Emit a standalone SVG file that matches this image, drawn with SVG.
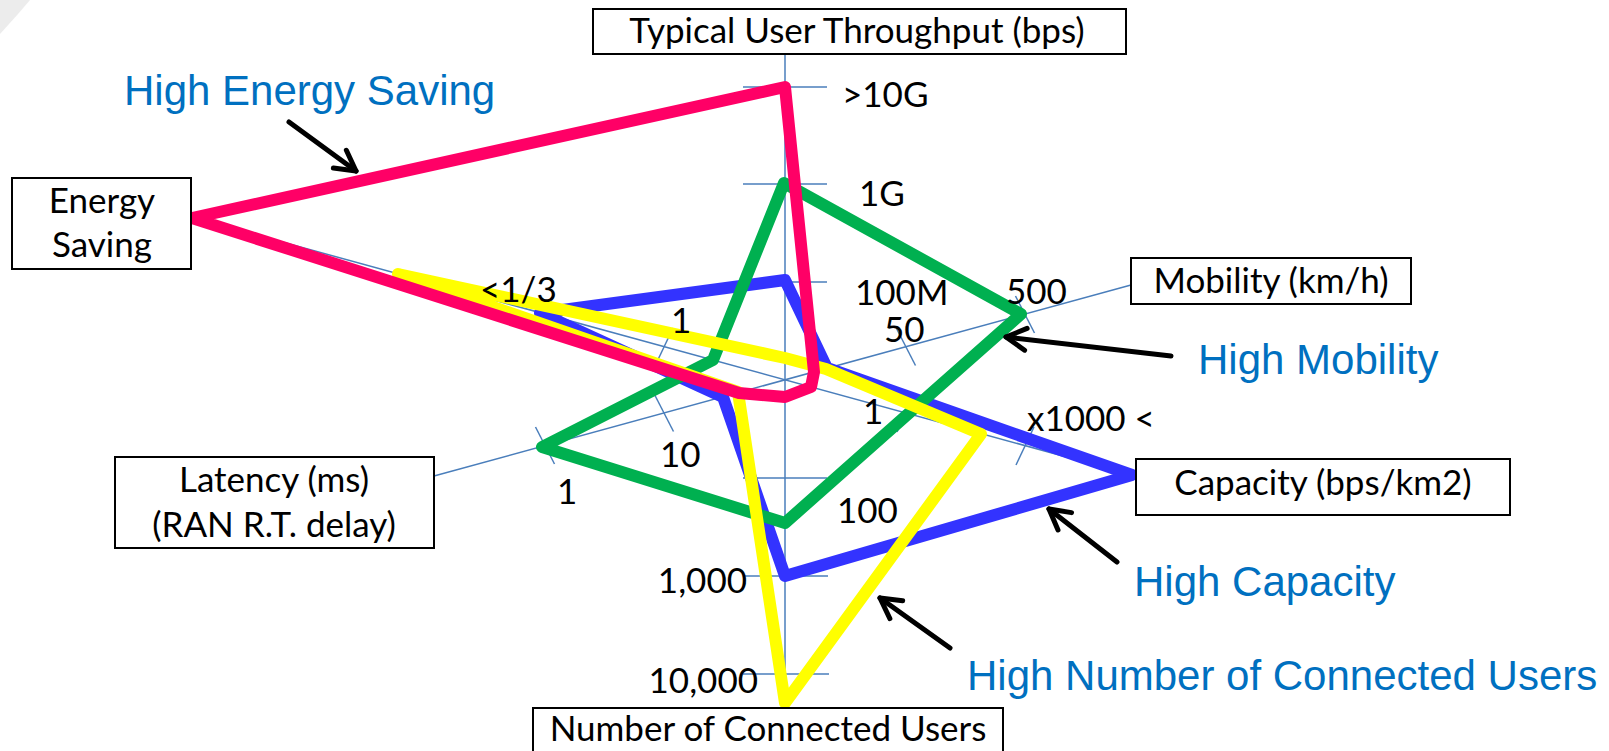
<svg xmlns="http://www.w3.org/2000/svg" width="1609" height="751" viewBox="0 0 1609 751">
<defs>
<style>
.ax{stroke:#4A7EBB;stroke-width:1.5;fill:none}
.box{fill:#fff;stroke:#000;stroke-width:2}
.lb{font-family:Lato,"Liberation Sans",sans-serif;font-size:35px;fill:#000}
.hl{font-family:"Liberation Sans",Arial,sans-serif;font-size:42px;fill:#0070C0}
.ser{fill:none;stroke-width:12;stroke-linejoin:round}
.arr{fill:none;stroke:#000;stroke-width:5;stroke-linecap:round;marker-end:url(#ah)}
</style>
<marker id="ah" markerUnits="userSpaceOnUse" viewBox="-26 -16 32 32" markerWidth="32" markerHeight="32" refX="0" refY="0" orient="auto" overflow="visible">
<path d="M-20,-11 L0,0 L-20,11" fill="none" stroke="#000" stroke-width="5" stroke-linecap="round" stroke-linejoin="round"/>
</marker>
</defs>
<rect width="1609" height="751" fill="#fff"/>
<polygon points="0,0 30,0 18,14 0,34" fill="#ececec"/>

<g id="axes">
<line class="ax" x1="785" y1="54" x2="785" y2="708"/>
<line class="ax" x1="191" y1="217" x2="1136" y2="476"/>
<line class="ax" x1="434" y1="476" x2="1131" y2="285"/>
<g id="ticks">
<line class="ax" x1="743" y1="87" x2="827" y2="87"/>
<line class="ax" x1="743" y1="184" x2="827" y2="184"/>
<line class="ax" x1="743" y1="282" x2="827" y2="282"/>
<line class="ax" x1="743" y1="478" x2="827" y2="478"/>
<line class="ax" x1="743" y1="576" x2="828" y2="576"/>
<line class="ax" x1="743" y1="674" x2="829" y2="674"/>
<line class="ax" x1="535.5" y1="427" x2="554.5" y2="464"/>
<line class="ax" x1="654.5" y1="394.5" x2="673.5" y2="431.5"/>
<line class="ax" x1="896.5" y1="328.5" x2="915.5" y2="365.5"/>
<line class="ax" x1="1015.5" y1="296" x2="1034.5" y2="333"/>
<line class="ax" x1="554" y1="295" x2="536" y2="333"/>
<line class="ax" x1="673" y1="328" x2="655" y2="366"/>
<line class="ax" x1="915" y1="394" x2="897" y2="432"/>
<line class="ax" x1="1034" y1="427" x2="1016" y2="465"/>
</g>
</g>

<g id="series">
<polygon id="s-capacity" class="ser" stroke="#3333FF" points="785,280 827,368 1132,475 785,576 723,397 540,313"/>
<polygon id="s-mobility" class="ser" stroke="#00B050" points="784,183 1021,314 908,414 785,523 542,447 713,360"/>
<polygon id="s-users" class="ser" stroke="#FFFF00" points="785,358 826,369 981,434 785,703 738,392 398,274"/>
<polygon id="s-energy" class="ser" stroke="#FF0066" points="785,87 814,372 811,387 785,397 739,393 192,218"/>
</g>

<g id="scale-labels">
<text class="lb" x="842" y="107">&gt;10G</text>
<text class="lb" x="859" y="206">1G</text>
<text class="lb" x="855" y="305">100M</text>
<text class="lb" x="837" y="523">100</text>
<text class="lb" x="747" y="593" text-anchor="end">1,000</text>
<text class="lb" x="758" y="693" text-anchor="end">10,000</text>
<text class="lb" x="1006" y="304">500</text>
<text class="lb" x="884" y="342">50</text>
<text class="lb" x="863" y="424">1</text>
<text class="lb" x="1027" y="431">x1000 &lt;</text>
<text class="lb" x="557" y="504">1</text>
<text class="lb" x="660" y="467">10</text>
<text class="lb" x="480" y="302">&lt;1/3</text>
<text class="lb" x="671" y="333">1</text>
</g>

<g id="node-throughput">
<rect class="box" x="593" y="9" width="533" height="45"/>
<text class="lb" x="857" y="43" text-anchor="middle">Typical User Throughput (bps)</text>
</g>
<g id="node-energy">
<rect class="box" x="12" y="178" width="179" height="91"/>
<text class="lb" x="102" y="213" text-anchor="middle">Energy</text>
<text class="lb" x="102" y="257" text-anchor="middle">Saving</text>
</g>
<g id="node-mobility">
<rect class="box" x="1131" y="258" width="280" height="46"/>
<text class="lb" x="1271" y="293" text-anchor="middle">Mobility (km/h)</text>
</g>
<g id="node-capacity">
<rect class="box" x="1136" y="459" width="374" height="56"/>
<text class="lb" x="1323" y="495" text-anchor="middle">Capacity (bps/km2)</text>
</g>
<g id="node-latency">
<rect class="box" x="115" y="457" width="319" height="91"/>
<text class="lb" x="274" y="492" text-anchor="middle">Latency (ms)</text>
<text class="lb" x="274" y="537" text-anchor="middle">(RAN R.T. delay)</text>
</g>
<g id="node-users">
<rect class="box" x="533" y="708" width="470" height="48"/>
<text class="lb" x="768" y="741" text-anchor="middle">Number of Connected Users</text>
</g>

<g id="connectors">
<line class="arr" x1="289" y1="122" x2="356" y2="171"/>
<line class="arr" x1="1171" y1="356" x2="1006" y2="337"/>
<line class="arr" x1="1117" y1="562" x2="1049" y2="509"/>
<line class="arr" x1="950" y1="648" x2="880" y2="598"/>
</g>

<g id="callouts">
<text class="hl" x="124" y="105">High Energy Saving</text>
<text class="hl" x="1198" y="374">High Mobility</text>
<text class="hl" x="1134" y="596">High Capacity</text>
<text class="hl" x="967" y="690">High Number of Connected Users</text>
</g>
</svg>
